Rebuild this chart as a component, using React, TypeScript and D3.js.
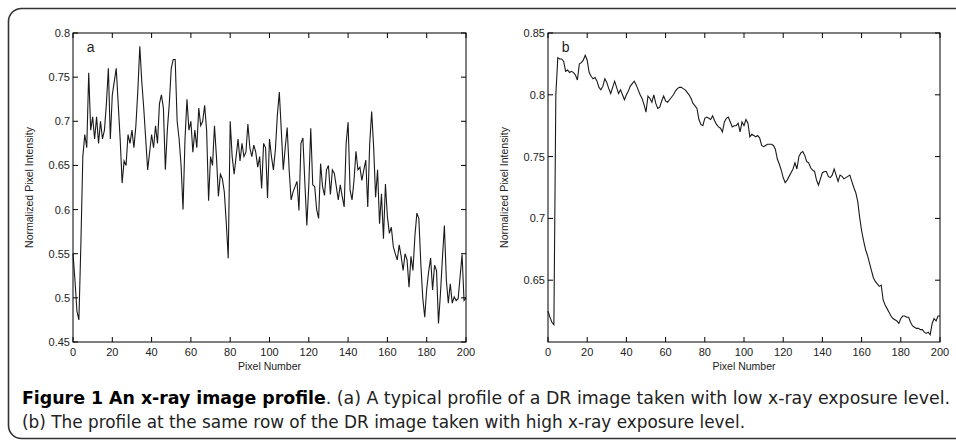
import React from "react";
import * as d3 from "d3";

// profile (a): low exposure, pixel 0..200
const profileA = [
  0.55, 0.52, 0.485, 0.475, 0.56, 0.66, 0.685, 0.67, 0.755, 0.69,
  0.705, 0.68, 0.705, 0.675, 0.7, 0.68, 0.69, 0.72, 0.76, 0.68,
  0.73, 0.745, 0.76, 0.72, 0.68, 0.63, 0.655, 0.65, 0.685, 0.675,
  0.69, 0.67, 0.695, 0.735, 0.785, 0.745, 0.715, 0.68, 0.645, 0.665,
  0.685, 0.67, 0.695, 0.675, 0.72, 0.73, 0.715, 0.645, 0.69, 0.72,
  0.76, 0.77, 0.77, 0.7, 0.68, 0.65, 0.6, 0.68, 0.725, 0.69,
  0.7, 0.665, 0.69, 0.67, 0.715, 0.695, 0.7, 0.718, 0.69, 0.61,
  0.66, 0.65, 0.695, 0.66, 0.615, 0.64, 0.635, 0.62, 0.585, 0.545,
  0.7, 0.66, 0.64, 0.66, 0.68, 0.655, 0.675, 0.66, 0.665, 0.697,
  0.67, 0.66, 0.673, 0.665, 0.648, 0.66, 0.624, 0.675, 0.67, 0.613,
  0.68, 0.66, 0.645, 0.668, 0.707, 0.733, 0.69, 0.645, 0.67, 0.693,
  0.645, 0.611, 0.62, 0.626, 0.632, 0.599, 0.675, 0.681, 0.63, 0.582,
  0.628, 0.692, 0.628, 0.626, 0.6, 0.59, 0.652, 0.626, 0.616, 0.645,
  0.65, 0.617, 0.645, 0.641, 0.626, 0.611, 0.628, 0.615, 0.603, 0.675,
  0.699, 0.622, 0.611, 0.633, 0.666, 0.645, 0.648, 0.633, 0.645, 0.656,
  0.603, 0.675, 0.711, 0.671, 0.614, 0.645, 0.584, 0.618, 0.567, 0.629,
  0.592, 0.573, 0.58, 0.558, 0.55, 0.543, 0.56, 0.547, 0.531, 0.55,
  0.543, 0.512, 0.547, 0.531, 0.57, 0.596, 0.59, 0.539, 0.5, 0.478,
  0.51, 0.53, 0.545, 0.509, 0.537, 0.531, 0.471, 0.505, 0.545, 0.582,
  0.52, 0.494, 0.516, 0.494, 0.501, 0.497, 0.499, 0.524, 0.549, 0.497,
  0.5,
];

// profile (b): high exposure, pixel 0..200
const profileB = [
  0.625, 0.62, 0.616, 0.614, 0.8, 0.83, 0.829, 0.829, 0.827, 0.819,
  0.82, 0.818, 0.819, 0.818, 0.816, 0.812, 0.825, 0.826, 0.828, 0.832,
  0.828, 0.818, 0.815, 0.813, 0.814, 0.811, 0.806, 0.804, 0.807, 0.813,
  0.81, 0.805, 0.801, 0.806, 0.811, 0.806, 0.801, 0.804, 0.8, 0.796,
  0.8, 0.803, 0.807, 0.809, 0.811, 0.808, 0.804, 0.8, 0.797, 0.792,
  0.786, 0.799, 0.797, 0.794, 0.8, 0.793, 0.789, 0.79, 0.795, 0.799,
  0.795, 0.794, 0.796, 0.798, 0.8, 0.803, 0.805, 0.806, 0.806, 0.805,
  0.804, 0.802, 0.8, 0.797, 0.793, 0.791, 0.789, 0.78, 0.776, 0.775,
  0.781, 0.782, 0.781, 0.78, 0.783, 0.779, 0.776, 0.774, 0.773, 0.77,
  0.778, 0.781, 0.782, 0.778, 0.774, 0.775, 0.775, 0.777, 0.77, 0.778,
  0.775, 0.78, 0.777, 0.766, 0.768, 0.767, 0.766, 0.767, 0.765, 0.759,
  0.758, 0.759, 0.76, 0.76, 0.76, 0.759, 0.756, 0.748, 0.744, 0.739,
  0.733, 0.729, 0.731, 0.734, 0.737, 0.74, 0.745, 0.74, 0.75, 0.753,
  0.754, 0.751, 0.746, 0.745, 0.741, 0.739, 0.738, 0.731, 0.727, 0.732,
  0.737, 0.738, 0.738, 0.734, 0.733, 0.735, 0.74, 0.735, 0.73, 0.735,
  0.734, 0.732, 0.733, 0.734, 0.735, 0.73, 0.725, 0.721, 0.714, 0.701,
  0.69, 0.682, 0.675, 0.67, 0.664, 0.658, 0.652, 0.649, 0.647, 0.645,
  0.646, 0.634, 0.63, 0.627, 0.624, 0.621, 0.619, 0.618, 0.617, 0.615,
  0.619, 0.621, 0.621, 0.62, 0.62, 0.616, 0.613, 0.612, 0.611, 0.611,
  0.61, 0.61, 0.608, 0.607, 0.608, 0.606, 0.615, 0.619, 0.617, 0.621,
  0.621,
];

const xTicks = [0, 20, 40, 60, 80, 100, 120, 140, 160, 180, 200];
const yTicksA = [0.45, 0.5, 0.55, 0.6, 0.65, 0.7, 0.75, 0.8];
const yTicksB = [0.65, 0.7, 0.75, 0.8, 0.85];

const captionBold = "Figure 1 An x-ray image profile";
const captionRest1 = ". (a) A typical profile of a DR image taken with low x-ray exposure level.";
const captionLine2 = "(b) The profile at the same row of the DR image taken with high x-ray exposure level.";

const FONT = "Liberation Sans, Arial, sans-serif";
const CAPTION_FONT = "DejaVu Sans Condensed, Liberation Sans Narrow, sans-serif";

type PanelProps = {
  values: number[];
  left: number;
  right: number;
  yDomain: [number, number];
  yTicks: number[];
  tag: string;
};

const Panel = ({ values, left, right, yDomain, yTicks, tag }: PanelProps) => {
  const top = 33;
  const bottom = 342;
  const x = d3.scaleLinear().domain([0, 200]).range([left, right]);
  const y = d3.scaleLinear().domain(yDomain).range([bottom, top]);
  const line = d3
    .line<number>()
    .x((_, i) => x(i))
    .y((d) => y(d));
  const tl = 5;

  return (
    <g>
      <path d={line(values) || ""} fill="none" stroke="#1a1a1a" strokeWidth={1.1} />
      <rect x={left} y={top} width={right - left} height={bottom - top} fill="none" stroke="#000" strokeWidth={1} />
      {xTicks.map((t) => (
        <g key={"x" + t}>
          <line x1={x(t)} x2={x(t)} y1={bottom} y2={bottom - tl} stroke="#000" />
          <line x1={x(t)} x2={x(t)} y1={top} y2={top + tl} stroke="#000" />
          <text x={x(t)} y={bottom + 14} textAnchor="middle" fontSize={11} fontFamily={FONT} fill="#222">
            {t}
          </text>
        </g>
      ))}
      {yTicks.map((t) => (
        <g key={"y" + t}>
          <line x1={left} x2={left + tl} y1={y(t)} y2={y(t)} stroke="#000" />
          <line x1={right} x2={right - tl} y1={y(t)} y2={y(t)} stroke="#000" />
          <text x={left - 3} y={y(t) + 4} textAnchor="end" fontSize={11} fontFamily={FONT} fill="#222">
            {d3.format("")(+t.toFixed(2))}
          </text>
        </g>
      ))}
      <text x={x(7)} y={top + 19} fontSize={14} fontFamily={FONT} fill="#222">
        {tag}
      </text>
      <text
        transform={`translate(${left - 40},${(top + bottom) / 2}) rotate(-90)`}
        textAnchor="middle"
        fontSize={10.5}
        fontFamily={FONT}
        fill="#222"
      >
        Normalized Pixel Intensity
      </text>
      <text x={(left + right) / 2} y={bottom + 28} textAnchor="middle" fontSize={10.5} fontFamily={FONT} fill="#222">
        Pixel Number
      </text>
    </g>
  );
};

export default function App() {
  return (
    <svg
      width={956}
      height={441}
      style={{ position: "absolute", left: 0, top: 0, background: "#fff" }}
    >
      <rect x={8.5} y={8.5} width={980} height={430} rx={13} fill="none" stroke="#333" strokeWidth={1.6} />
      <Panel values={profileA} left={73} right={466} yDomain={[0.45, 0.8]} yTicks={yTicksA} tag="a" />
      <Panel values={profileB} left={548} right={940} yDomain={[0.6, 0.85]} yTicks={yTicksB} tag="b" />
      <text
        x={22}
        y={404}
        fontSize={17}
        fontFamily={CAPTION_FONT}
        fill="#222"
        textLength={928}
        lengthAdjust="spacingAndGlyphs"
      >
        <tspan fontWeight="bold" fill="#000">{captionBold}</tspan>
        <tspan>{captionRest1}</tspan>
      </text>
      <text
        x={22}
        y={428}
        fontSize={17}
        fontFamily={CAPTION_FONT}
        fill="#222"
        textLength={723}
        lengthAdjust="spacingAndGlyphs"
      >
        {captionLine2}
      </text>
    </svg>
  );
}
